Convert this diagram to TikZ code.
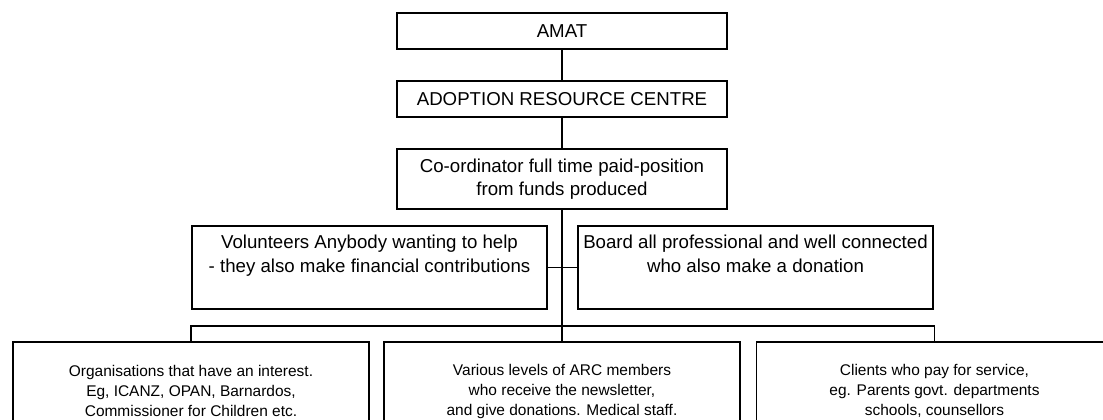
\documentclass[tikz,border=0pt]{standalone}
\usepackage{fontspec}
\setmainfont{Liberation Sans}
\begin{document}
\begin{tikzpicture}[x=0.75pt,y=-0.75pt,
    caja/.style={draw,line width=0.8pt,align=center,inner sep=2pt,
      font=\fontsize{14}{17.5}\selectfont,minimum width=247.5pt},
    cajab/.style={caja,font=\fontsize{11.6}{15}\selectfont,
      minimum width=267pt,minimum height=73.5pt}]
\useasboundingbox (0,0) rectangle (1103,419);

% niveles superiores
\node[caja,minimum height=27pt] (amat) at (562,31) {AMAT};
\node[caja,minimum height=27pt] (arc) at (562,99) {ADOPTION RESOURCE CENTRE};
\node[caja,minimum height=45pt] (coord) at (562,179) {Co-ordinator full time paid-position\\from funds produced};

% voluntarios y junta
\node[caja,minimum width=266.25pt,minimum height=62.25pt] (vol) at (369.5,267.5)
  {Volunteers Anybody wanting to help\\- they also make financial contributions\\[3pt]};
\node[caja,minimum width=266.25pt,minimum height=62.25pt] (board) at (755.5,267.5)
  {Board all professional and well connected\\who also make a donation\\[3pt]};

% grupos inferiores
\node[cajab] (org) at (191,391) {Organisations that have an interest.\\Eg, ICANZ, OPAN, Barnardos,\\Commissioner for Children etc.};
\node[cajab] (members) at (562,391) {Various levels of ARC members\\who receive the newsletter,\\and give donations. Medical staff.};
\node[cajab] (clients) at (934.5,391) {Clients who pay for service,\\eg. Parents govt. departments\\schools, counsellors};
\coordinate (bus) at (562,326);

\begin{scope}[line width=0.8pt]
\draw (amat) -- (arc);
\draw (arc) -- (coord);
\draw (coord) -- (members);
\draw (vol) -- (board);
\draw (org) |- (bus) -| (clients);
\end{scope}
\end{tikzpicture}
\end{document}
